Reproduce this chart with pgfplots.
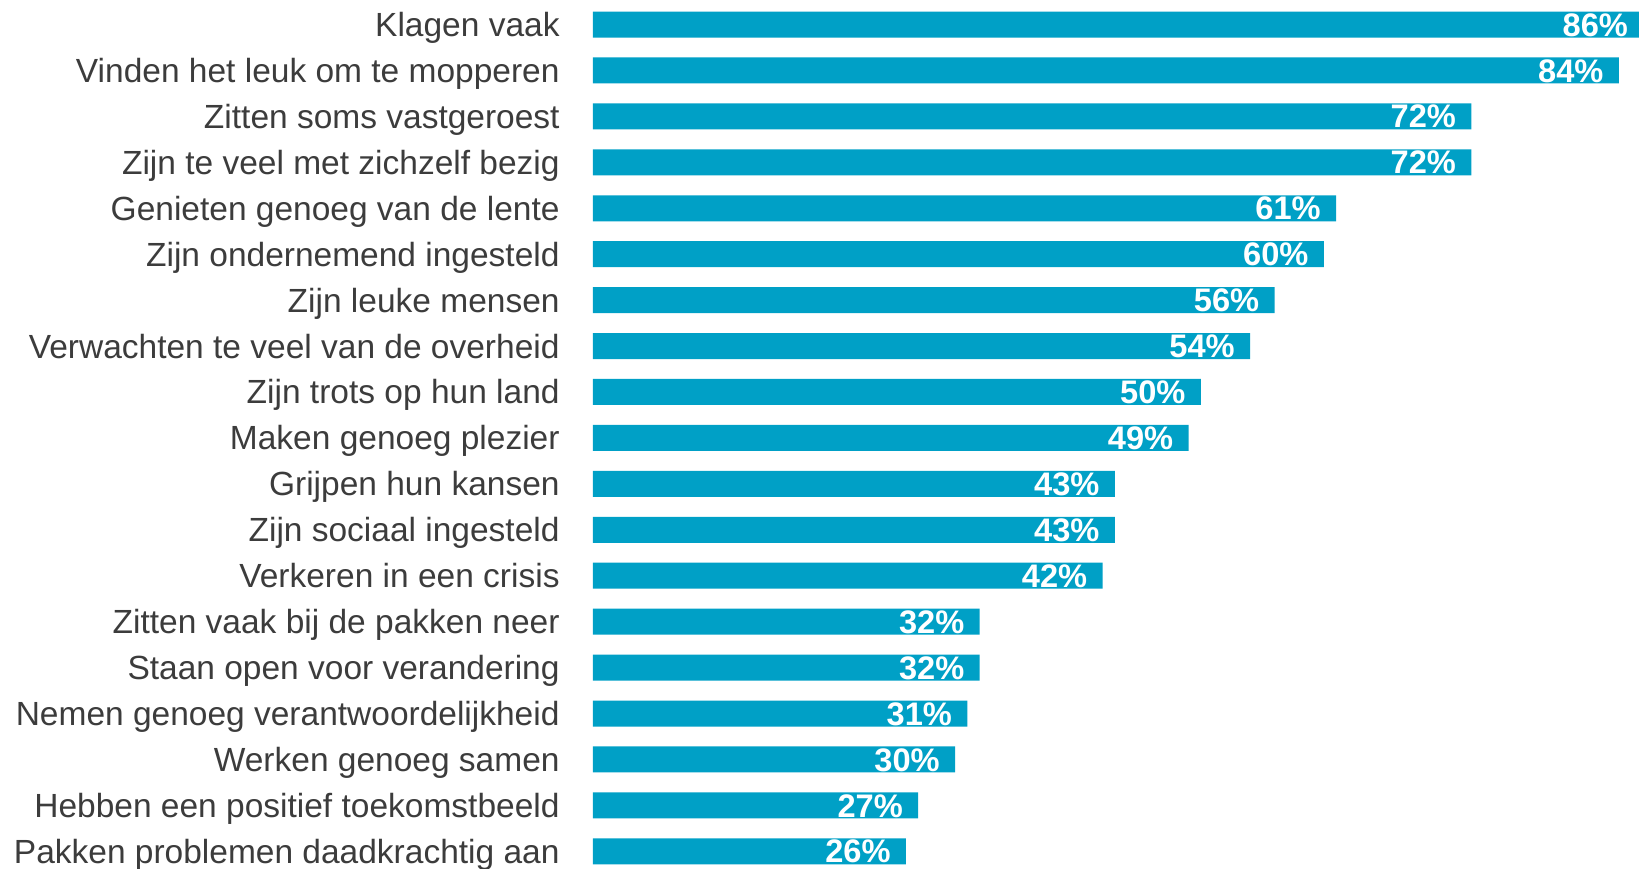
\documentclass[border=0pt]{standalone}
\usepackage{fontspec}
\setmainfont{Liberation Sans}
\usepackage{pgfplots}
\pgfplotsset{compat=1.18}
\definecolor{barblue}{HTML}{00A0C6}
\definecolor{labelgray}{HTML}{3C3C3C}
\begin{document}
\begin{tikzpicture}
\begin{axis}[
  at={(0,0)}, anchor=north west,
  scale only axis,
  width=525.8pt, height=436.4pt,
  xbar, bar width=13pt,
  xmin=0.54, xmax=86.1,
  ymin=-0.5, ymax=18.5, y dir=reverse,
  axis line style={draw=none},
  major tick length=0pt,
  xtick=\empty,
  ytick={0,...,18},
  yticklabels={Klagen vaak, Vinden het leuk om te mopperen, Zitten soms vastgeroest,
    Zijn te veel met zichzelf bezig, Genieten genoeg van de lente, Zijn ondernemend ingesteld,
    Zijn leuke mensen, Verwachten te veel van de overheid, Zijn trots op hun land,
    Maken genoeg plezier, Grijpen hun kansen, Zijn sociaal ingesteld, Verkeren in een crisis,
    Zitten vaak bij de pakken neer, Staan open voor verandering,
    Nemen genoeg verantwoordelijkheid, Werken genoeg samen,
    Hebben een positief toekomstbeeld, Pakken problemen daadkrachtig aan},
  yticklabel style={anchor=base east, inner sep=0pt, xshift=-16.5pt, yshift=-6pt,
    text=labelgray, font=\fontsize{16.75}{19}\selectfont},
  point meta=explicit symbolic,
  nodes near coords={\pgfplotspointmeta\%},
  nodes near coords style={anchor=base east, inner sep=0pt, xshift=-7.5pt, yshift=-5.8pt,
    text=white, font=\fontsize{16.3}{19}\selectfont\bfseries},
]
\addplot[fill=barblue, draw=none] coordinates {
  (86,0) [86]
  (84,1) [84]
  (72,2) [72]
  (72,3) [72]
  (61,4) [61]
  (60,5) [60]
  (56,6) [56]
  (54,7) [54]
  (50,8) [50]
  (49,9) [49]
  (43,10) [43]
  (43,11) [43]
  (42,12) [42]
  (32,13) [32]
  (32,14) [32]
  (31,15) [31]
  (30,16) [30]
  (27,17) [27]
  (26,18) [26]
};
\end{axis}
\pgfresetboundingbox
\path[use as bounding box] (-296.5pt,0.76pt) rectangle (523pt,-433.24pt);
\end{tikzpicture}
\end{document}
